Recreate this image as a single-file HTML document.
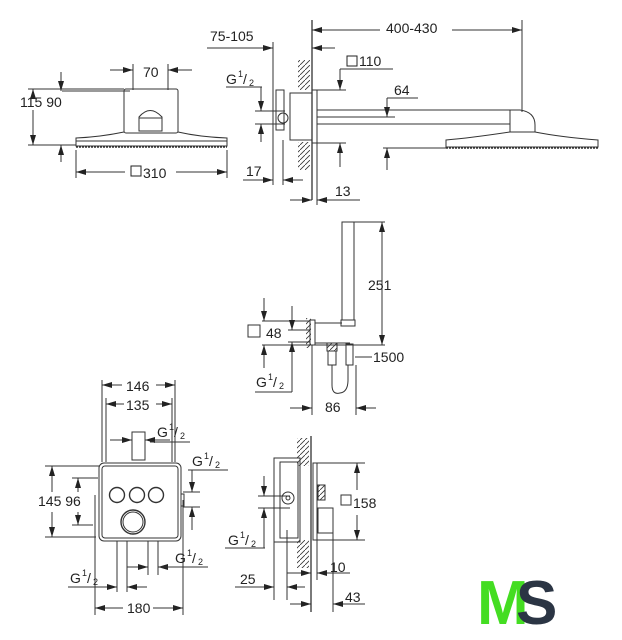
<!DOCTYPE html>
<html><head><meta charset="utf-8"><style>
html,body{margin:0;padding:0;background:#fff;}
svg{display:block}
text{font-family:"Liberation Sans",sans-serif;font-size:14px;fill:#222}
.s{font-size:9px}
</style></head><body>
<svg width="622" height="640" viewBox="0 0 622 640" xmlns="http://www.w3.org/2000/svg">
<defs>
<marker id="a" viewBox="0 0 10 6" refX="10" refY="3" markerWidth="10" markerHeight="6" markerUnits="userSpaceOnUse" orient="auto-start-reverse"><path d="M0,0L10,3L0,6z" fill="#222"/></marker>
<pattern id="h" width="5" height="5" patternUnits="userSpaceOnUse"><path d="M0,5L5,0" stroke="#333" stroke-width="0.8"/></pattern>
</defs>
<g stroke="#333" stroke-width="1" fill="none">
<line x1="110" y1="70" x2="133" y2="70" marker-end="url(#a)"/>
<line x1="192" y1="70" x2="168" y2="70" marker-end="url(#a)"/>
<line x1="133" y1="64" x2="133" y2="90"/><line x1="168" y1="64" x2="168" y2="90"/>
<rect x="124" y="89" width="54" height="44" rx="2"/>
<path d="M139,131 V117 Q150,104 162,117 V131 Z"/>
<line x1="139" y1="118" x2="162" y2="118"/>
<path d="M124,132 Q100,137 76,138 L76,146 L227,146 L227,138 Q200,137 178,132"/>
<line x1="76" y1="141" x2="227" y2="141"/>
<line x1="76" y1="147" x2="227" y2="147" stroke-dasharray="2,1" stroke-width="1.5"/>
<line x1="28" y1="89" x2="124" y2="89"/><line x1="28" y1="145" x2="76" y2="145"/>
<line x1="33" y1="89" x2="33" y2="94" marker-start="url(#a)"/>
<line x1="33" y1="110" x2="33" y2="145" marker-end="url(#a)"/>
<line x1="62" y1="91" x2="130" y2="91"/>
<line x1="61" y1="72" x2="61" y2="91" marker-end="url(#a)"/>
<line x1="61" y1="162" x2="61" y2="145" marker-end="url(#a)"/>
<line x1="76" y1="150" x2="76" y2="178"/><line x1="227" y1="150" x2="227" y2="178"/>
<line x1="76" y1="172" x2="125" y2="172" marker-start="url(#a)"/>
<line x1="176" y1="172" x2="227" y2="172" marker-end="url(#a)"/>
<line x1="207" y1="48" x2="273" y2="48" marker-end="url(#a)"/>
<line x1="273" y1="42" x2="273" y2="185"/>
<line x1="226" y1="87" x2="262" y2="87"/>
<line x1="261" y1="87" x2="261" y2="111" marker-end="url(#a)"/>
<line x1="261" y1="142" x2="261" y2="124" marker-end="url(#a)"/>
<line x1="255" y1="111" x2="285" y2="111"/><line x1="255" y1="124" x2="285" y2="124"/>
<rect x="276" y="90" width="8" height="40"/>
<circle cx="283" cy="118" r="5"/>
<rect x="290" y="93" width="22" height="47"/>
<rect x="298" y="60" width="12" height="30" fill="url(#h)" stroke="none"/>
<rect x="298" y="142" width="12" height="28" fill="url(#h)" stroke="none"/>
<line x1="312" y1="20" x2="312" y2="200" stroke-width="1.3"/>
<rect x="312" y="90" width="5" height="53"/>
<line x1="317" y1="110" x2="505" y2="110"/><line x1="317" y1="124" x2="510" y2="124"/>
<path d="M505,110 H520 Q535,112 535,125 V132 H510 V110"/>
<path d="M510,132 Q470,138 446,140 V147 H598 V140 Q560,137 535,132"/>
<line x1="446" y1="148" x2="598" y2="148" stroke-dasharray="2,1" stroke-width="1.5"/>
<line x1="312" y1="30" x2="380" y2="30" marker-start="url(#a)"/>
<line x1="452" y1="30" x2="522" y2="30" marker-end="url(#a)"/>
<line x1="522" y1="20" x2="522" y2="112"/>
<line x1="335" y1="48" x2="312" y2="48" marker-end="url(#a)"/>
<line x1="340" y1="69" x2="393" y2="69"/>
<line x1="340" y1="69" x2="340" y2="90" marker-end="url(#a)"/>
<line x1="315" y1="90" x2="346" y2="90"/>
<line x1="387" y1="98" x2="418" y2="98"/>
<line x1="387" y1="98" x2="387" y2="117" marker-end="url(#a)"/>
<line x1="317" y1="117" x2="395" y2="117"/>
<line x1="317" y1="143" x2="346" y2="143"/>
<line x1="340" y1="167" x2="340" y2="143" marker-end="url(#a)"/>
<line x1="383" y1="148" x2="446" y2="148"/>
<line x1="387" y1="170" x2="387" y2="148" marker-end="url(#a)"/>
<line x1="317" y1="143" x2="317" y2="205"/>
<line x1="243" y1="180" x2="273" y2="180" marker-end="url(#a)"/>
<line x1="283" y1="140" x2="283" y2="185"/>
<line x1="303" y1="180" x2="283" y2="180" marker-end="url(#a)"/>
<line x1="290" y1="200" x2="312" y2="200" marker-end="url(#a)"/>
<line x1="360" y1="200" x2="317" y2="200" marker-end="url(#a)"/>
<rect x="342" y="222" width="12" height="98"/>
<rect x="341" y="320" width="14" height="6"/>
<line x1="354" y1="222" x2="385" y2="222"/>
<line x1="382" y1="222" x2="382" y2="345" marker-start="url(#a)" marker-end="url(#a)"/>
<rect x="306" y="318" width="5" height="30" fill="url(#h)" stroke="none"/>
<rect x="310" y="320" width="5" height="25"/>
<line x1="315" y1="323" x2="342" y2="323"/><line x1="315" y1="343" x2="350" y2="343"/>
<line x1="312" y1="345" x2="385" y2="345"/>
<rect x="327" y="343" width="10" height="8" fill="url(#h)"/>
<rect x="328" y="351" width="8" height="14"/>
<rect x="346" y="344" width="7" height="21"/>
<path d="M332,365 V385 Q332,395 340,393 Q348,392 348,380 V365"/>
<line x1="355" y1="357" x2="372" y2="357"/>
<line x1="262" y1="321" x2="310" y2="321"/><line x1="262" y1="345" x2="310" y2="345"/>
<line x1="288" y1="330" x2="310" y2="330"/><line x1="288" y1="342" x2="310" y2="342"/>
<line x1="264" y1="298" x2="264" y2="321" marker-end="url(#a)"/>
<line x1="264" y1="368" x2="264" y2="345" marker-end="url(#a)"/>
<line x1="292" y1="306" x2="292" y2="330" marker-end="url(#a)"/>
<line x1="292" y1="392" x2="292" y2="342"/>
<line x1="292" y1="360" x2="292" y2="342" marker-end="url(#a)"/>
<rect x="248" y="325" width="12" height="12"/>
<line x1="255" y1="392" x2="292" y2="392"/>
<line x1="312" y1="345" x2="312" y2="415"/><line x1="356" y1="365" x2="356" y2="415"/>
<line x1="290" y1="408" x2="312" y2="408" marker-end="url(#a)"/>
<line x1="376" y1="408" x2="356" y2="408" marker-end="url(#a)"/>
<line x1="102" y1="380" x2="102" y2="462"/><line x1="175" y1="380" x2="175" y2="462"/>
<line x1="106" y1="398" x2="106" y2="462"/><line x1="172" y1="398" x2="172" y2="462"/>
<line x1="102" y1="385" x2="122" y2="385" marker-start="url(#a)"/>
<line x1="156" y1="385" x2="175" y2="385" marker-end="url(#a)"/>
<line x1="106" y1="404" x2="124" y2="404" marker-start="url(#a)"/>
<line x1="156" y1="404" x2="172" y2="404" marker-end="url(#a)"/>
<line x1="110" y1="440" x2="132" y2="440" marker-end="url(#a)"/>
<line x1="170" y1="440" x2="145" y2="440" marker-end="url(#a)"/>
<line x1="150" y1="442" x2="190" y2="442"/>
<rect x="132" y="432" width="13" height="28"/>
<rect x="99" y="463" width="82" height="78" rx="5"/>
<rect x="102" y="466" width="76" height="72" rx="3"/>
<circle cx="117" cy="495" r="7.5" stroke-width="1.4"/>
<circle cx="137" cy="495" r="7.5" stroke-width="1.4"/>
<circle cx="156" cy="495" r="7.5" stroke-width="1.4"/>
<circle cx="133" cy="522" r="12" stroke-width="1.4"/>
<circle cx="133" cy="522" r="10"/>
<line x1="45" y1="466" x2="100" y2="466"/><line x1="45" y1="537" x2="96" y2="537"/>
<line x1="52" y1="466" x2="52" y2="492" marker-start="url(#a)"/>
<line x1="52" y1="512" x2="52" y2="537" marker-end="url(#a)"/>
<line x1="72" y1="478" x2="98" y2="478"/><line x1="72" y1="525" x2="93" y2="525"/>
<line x1="78" y1="478" x2="78" y2="492" marker-start="url(#a)"/>
<line x1="78" y1="512" x2="78" y2="525" marker-end="url(#a)"/>
<line x1="188" y1="470" x2="228" y2="470"/>
<line x1="192" y1="470" x2="192" y2="492" marker-end="url(#a)"/>
<line x1="192" y1="530" x2="192" y2="507" marker-end="url(#a)"/>
<line x1="183" y1="492" x2="200" y2="492"/><line x1="183" y1="507" x2="200" y2="507"/>
<rect x="181" y="494" width="3" height="12"/>
<line x1="95" y1="495" x2="95" y2="615"/><line x1="183" y1="500" x2="183" y2="615"/>
<line x1="117" y1="541" x2="117" y2="592"/><line x1="127" y1="541" x2="127" y2="592"/>
<line x1="148" y1="541" x2="148" y2="575"/><line x1="158" y1="541" x2="158" y2="575"/>
<line x1="127" y1="567" x2="148" y2="567" marker-end="url(#a)"/>
<line x1="178" y1="567" x2="158" y2="567" marker-end="url(#a)"/>
<line x1="160" y1="567" x2="208" y2="567"/>
<line x1="68" y1="587" x2="117" y2="587" marker-end="url(#a)"/>
<line x1="147" y1="587" x2="127" y2="587" marker-end="url(#a)"/>
<line x1="95" y1="608" x2="123" y2="608" marker-start="url(#a)"/>
<line x1="153" y1="608" x2="183" y2="608" marker-end="url(#a)"/>
<rect x="297" y="438" width="12" height="28" fill="url(#h)" stroke="none"/>
<rect x="297" y="540" width="12" height="28" fill="url(#h)" stroke="none"/>
<line x1="311" y1="436" x2="311" y2="612" stroke-width="1.3"/>
<rect x="274" y="458" width="26" height="84"/>
<rect x="280" y="462" width="18" height="76"/>
<circle cx="288" cy="498" r="6"/><circle cx="288" cy="498" r="2"/>
<rect x="313" y="463" width="4" height="77"/>
<rect x="318" y="485" width="7" height="15" fill="url(#h)"/>
<rect x="318" y="508" width="15" height="25"/>
<line x1="317" y1="463" x2="365" y2="463"/><line x1="317" y1="540" x2="365" y2="540"/>
<line x1="357" y1="463" x2="357" y2="490" marker-start="url(#a)"/>
<line x1="357" y1="515" x2="357" y2="540" marker-end="url(#a)"/>
<rect x="341" y="495" width="10" height="10"/>
<line x1="258" y1="496" x2="290" y2="496"/><line x1="258" y1="508" x2="290" y2="508"/>
<line x1="264" y1="476" x2="264" y2="496" marker-end="url(#a)"/>
<line x1="264" y1="548" x2="264" y2="508" marker-end="url(#a)"/>
<line x1="225" y1="548" x2="265" y2="548"/>
<line x1="274" y1="542" x2="274" y2="600"/><line x1="287" y1="530" x2="287" y2="600"/>
<line x1="317" y1="540" x2="317" y2="580"/><line x1="333" y1="533" x2="333" y2="612"/>
<line x1="235" y1="587" x2="274" y2="587" marker-end="url(#a)"/>
<line x1="287" y1="573" x2="311" y2="573" marker-end="url(#a)"/>
<line x1="305" y1="587" x2="287" y2="587" marker-end="url(#a)"/>
<line x1="350" y1="573" x2="317" y2="573" marker-end="url(#a)"/>
<line x1="290" y1="604" x2="311" y2="604" marker-end="url(#a)"/>
<line x1="365" y1="604" x2="333" y2="604" marker-end="url(#a)"/>
</g>
<g>
<text x="210" y="41">75-105</text>
<text x="143" y="77">70</text>
<text x="20" y="107">115 90</text>
<rect x="131" y="166" width="10" height="10" fill="none" stroke="#222"/>
<text x="143" y="178">310</text>
<text x="226" y="84">G</text><text x="238" y="77" class="s">1</text><text x="243" y="84">/</text><text x="249" y="86" class="s">2</text>
<text x="246" y="176">17</text>
<text x="386" y="33">400-430</text>
<rect x="347" y="56" width="10" height="10" fill="none" stroke="#222"/>
<text x="359" y="66">110</text>
<text x="394" y="95">64</text>
<text x="335" y="196">13</text>
<text x="368" y="290">251</text>
<text x="266" y="338">48</text>
<text x="373" y="362">1500</text>
<text x="256" y="387">G</text><text x="268" y="380" class="s">1</text><text x="273" y="387">/</text><text x="279" y="389" class="s">2</text>
<text x="325" y="412">86</text>
<text x="126" y="391">146</text>
<text x="126" y="410">135</text>
<text x="157" y="437">G</text><text x="169" y="430" class="s">1</text><text x="174" y="437">/</text><text x="180" y="439" class="s">2</text>
<text x="192" y="466">G</text><text x="204" y="459" class="s">1</text><text x="209" y="466">/</text><text x="215" y="468" class="s">2</text>
<text x="38" y="506">145 96</text>
<text x="175" y="563">G</text><text x="187" y="556" class="s">1</text><text x="192" y="563">/</text><text x="198" y="565" class="s">2</text>
<text x="70" y="583">G</text><text x="82" y="576" class="s">1</text><text x="87" y="583">/</text><text x="93" y="585" class="s">2</text>
<text x="127" y="613">180</text>
<text x="353" y="508">158</text>
<text x="228" y="545">G</text><text x="240" y="538" class="s">1</text><text x="245" y="545">/</text><text x="251" y="547" class="s">2</text>
<text x="240" y="584">25</text>
<text x="330" y="572">10</text>
<text x="345" y="602">43</text>
<text x="477" y="624" style="font-size:62px;font-weight:bold;fill:#44dd22;letter-spacing:-7px">M</text>
<text x="516" y="624" style="font-size:62px;font-weight:bold;fill:#2b3544">S</text>
</g>
</svg>
</body></html>
